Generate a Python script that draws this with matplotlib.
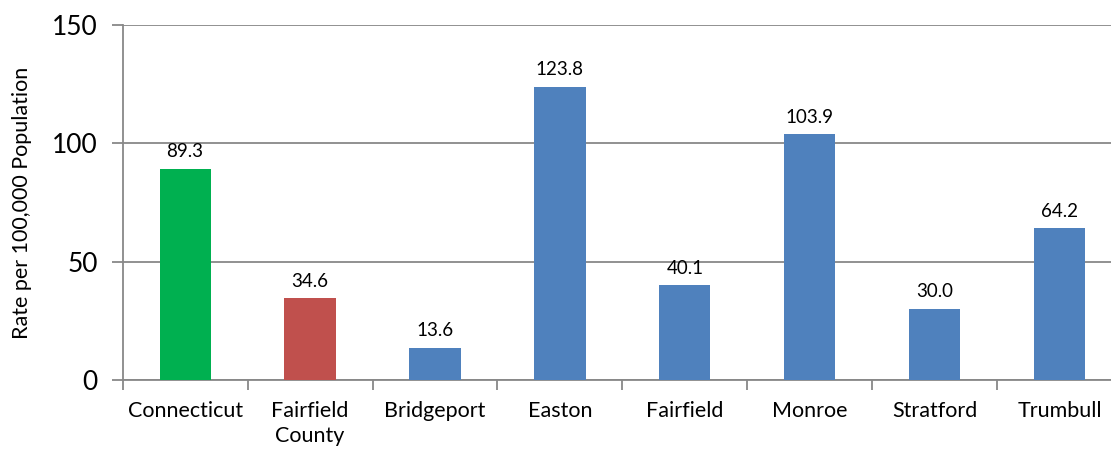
import matplotlib
matplotlib.use("Agg")
import matplotlib.pyplot as plt
import numpy as np

categories = ["Connecticut", "Fairfield\nCounty", "Bridgeport", "Easton", "Fairfield", "Monroe", "Stratford", "Trumbull"]
values = [89.3, 34.6, 13.6, 123.8, 40.1, 103.9, 30.0, 64.2]
colors = ["#00B050", "#C0504D", "#4F81BD", "#4F81BD", "#4F81BD", "#4F81BD", "#4F81BD", "#4F81BD"]
yticks = [0, 50, 100, 150]

plt.rcParams['font.family'] = ['Lato', 'DejaVu Sans']

fig = plt.figure(figsize=(11.11, 4.51), dpi=100)
ax = fig.add_axes([0.1104, 0.1574, 0.8996, 0.7872])

x = np.arange(len(categories))
ax.bar(x, values, width=0.41, color=colors, zorder=3)
for xi, v in zip(x, values):
    ax.text(xi, v + 3.6, f"{v:.1f}", ha="center", va="bottom", fontsize=13.5, color="black", zorder=4)

ax.set_xlim(-0.5, len(categories) - 0.5)
ax.set_ylim(0, 150)
ax.set_yticks(yticks)
ax.set_yticklabels([str(t) for t in yticks], fontsize=19)
ax.set_xticks(x)
ax.set_xticklabels(categories, fontsize=15.5, linespacing=1.3)
ax.set_xticks(np.arange(-0.5, len(categories), 1), minor=True)
ax.tick_params(axis="x", which="major", length=0, pad=15)
ax.tick_params(axis="x", which="minor", length=7, color="#888888", width=1.3)
ax.tick_params(axis="y", length=8, color="#888888", width=1.3, pad=10)

ax.yaxis.grid(True, color="#888888", linewidth=1.3, zorder=0)
ax.set_axisbelow(True)
for s in ["top", "right"]:
    ax.spines[s].set_visible(False)
for s in ["left", "bottom"]:
    ax.spines[s].set_color("#888888")
    ax.spines[s].set_linewidth(1.3)

ax.set_ylabel("Rate per 100,000 Population", fontsize=15.5, labelpad=14)

fig.savefig("out.png", dpi=100)
